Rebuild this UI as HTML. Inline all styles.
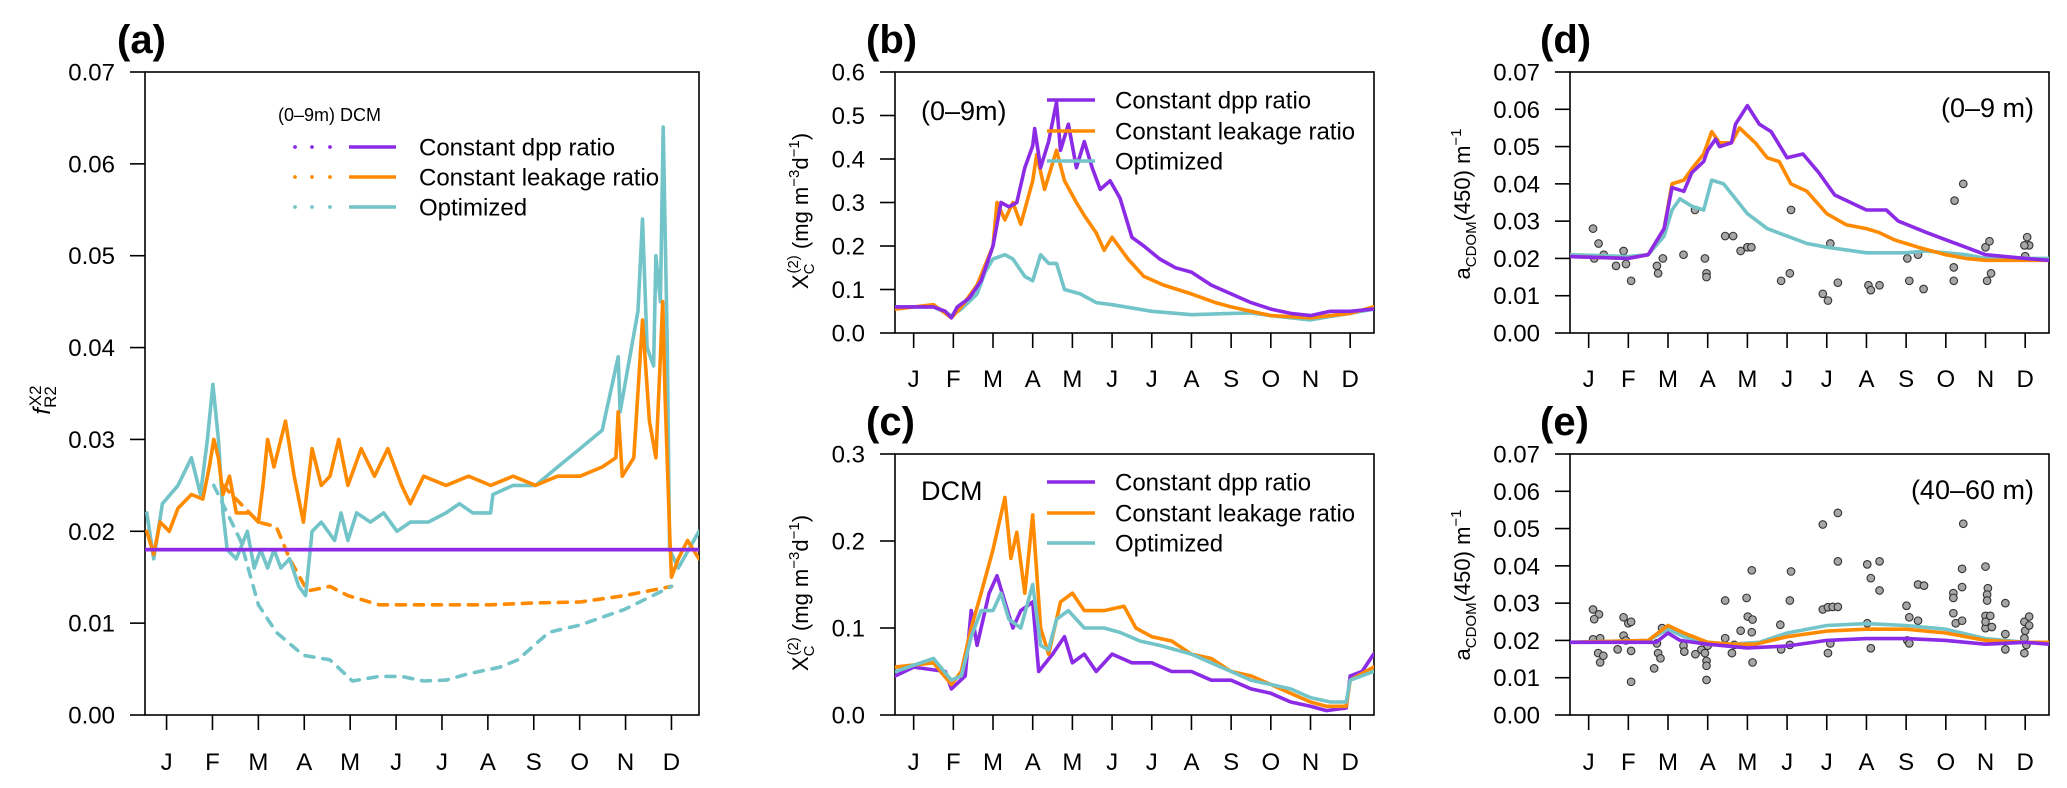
<!DOCTYPE html>
<html><head><meta charset="utf-8"><style>
html,body{margin:0;padding:0;background:#fff}
svg{display:block;font-family:"Liberation Sans",Arial,sans-serif}
</style></head><body>
<svg id="fig" width="2067" height="788" viewBox="0 0 2067 788" xmlns="http://www.w3.org/2000/svg"></svg>
<script>
// ---------- data (x in months, 0 = Jan tick) ----------
const months=["J","F","M","A","M","J","J","A","S","O","N","D"];
const aTicks=[0,0.01,0.02,0.03,0.04,0.05,0.06,0.07];
const bTicks=[0,0.1,0.2,0.3,0.4,0.5,0.6];
const cTicks=[0,0.1,0.2,0.3];
const dTicks=[0,0.01,0.02,0.03,0.04,0.05,0.06,0.07];

const aOrangeX=[-0.43,-0.28,-0.14,0.06,0.25,0.54,0.79,0.93,1.03,1.13,1.23,1.37,1.52,1.81,2.0,2.10,2.20,2.34,2.59,2.78,2.98,3.17,3.37,3.56,3.75,3.95,4.24,4.53,4.82,5.12,5.31,5.60,6.09,6.58,7.06,7.55,8.04,8.52,9.01,9.49,9.79,9.84,9.93,10.18,10.37,10.52,10.66,10.76,10.81,10.86,10.96,11.0,11.15,11.35,11.6];
const aOrangeY=[0.020,0.0175,0.021,0.020,0.0225,0.024,0.0235,0.027,0.030,0.028,0.024,0.026,0.022,0.022,0.021,0.025,0.030,0.027,0.032,0.026,0.021,0.029,0.025,0.026,0.030,0.025,0.029,0.026,0.029,0.025,0.023,0.026,0.025,0.026,0.025,0.026,0.025,0.026,0.026,0.027,0.028,0.033,0.026,0.028,0.043,0.032,0.028,0.039,0.045,0.035,0.020,0.015,0.017,0.019,0.017];
const aTealX=[-0.43,-0.28,-0.09,0.25,0.54,0.74,0.89,1.01,1.13,1.23,1.32,1.52,1.76,1.91,2.05,2.20,2.34,2.49,2.68,2.88,3.03,3.17,3.37,3.66,3.80,3.95,4.14,4.44,4.73,5.02,5.31,5.70,6.09,6.38,6.67,7.06,7.11,7.55,8.04,8.52,9.01,9.49,9.84,9.88,10.27,10.37,10.47,10.61,10.66,10.76,10.82,10.91,10.96,11.15,11.6];
const aTealY=[0.022,0.017,0.023,0.025,0.028,0.024,0.030,0.036,0.030,0.022,0.018,0.017,0.020,0.016,0.018,0.016,0.018,0.016,0.017,0.014,0.013,0.020,0.021,0.019,0.022,0.019,0.022,0.021,0.022,0.020,0.021,0.021,0.022,0.023,0.022,0.022,0.024,0.025,0.025,0.027,0.029,0.031,0.039,0.033,0.044,0.054,0.040,0.038,0.050,0.045,0.064,0.040,0.018,0.016,0.020];
const aPurpleX=[-0.47,11.6];
const aPurpleY=[0.018,0.018];
const aOrangeDashX=[1.23,2.0,2.39,2.68,3.07,3.56,3.95,4.63,5.60,7.06,8.04,9.01,9.98,11.0];
const aOrangeDashY=[0.025,0.021,0.0205,0.017,0.0135,0.014,0.013,0.012,0.012,0.012,0.0122,0.0123,0.013,0.014];
const aTealDashX=[1.03,1.61,2.0,2.39,2.98,3.56,4.05,4.63,5.12,5.60,6.09,6.58,7.26,7.65,8.33,9.01,9.98,11.0];
const aTealDashY=[0.025,0.019,0.012,0.009,0.0065,0.006,0.0037,0.0042,0.0042,0.0037,0.0038,0.0045,0.0052,0.006,0.009,0.0098,0.0115,0.014];

const bPurpleX=[-0.46,0,0.5,0.8,0.95,1.1,1.4,1.7,2.0,2.2,2.4,2.6,2.8,3.0,3.05,3.2,3.4,3.6,3.7,3.9,4.1,4.3,4.5,4.7,4.95,5.2,5.5,5.8,6.2,6.6,7.0,7.5,8.0,8.5,9.0,9.5,10.0,10.5,11.0,11.59];
const bPurpleY=[0.06,0.06,0.06,0.05,0.035,0.06,0.08,0.12,0.2,0.3,0.29,0.3,0.38,0.43,0.47,0.38,0.44,0.53,0.42,0.48,0.38,0.44,0.38,0.33,0.35,0.31,0.22,0.2,0.17,0.15,0.14,0.11,0.09,0.07,0.055,0.045,0.04,0.05,0.05,0.055];
const bOrangeX=[-0.46,0.5,0.95,1.2,1.6,2.0,2.1,2.3,2.5,2.7,3.0,3.1,3.3,3.6,3.8,4.1,4.3,4.6,4.8,5.0,5.4,5.8,6.3,7.0,7.6,8.0,8.5,9.0,10.0,10.5,11.0,11.59];
const bOrangeY=[0.055,0.065,0.035,0.06,0.11,0.2,0.3,0.26,0.3,0.25,0.35,0.41,0.33,0.42,0.35,0.3,0.27,0.23,0.19,0.22,0.17,0.13,0.11,0.09,0.07,0.06,0.05,0.04,0.035,0.04,0.045,0.06];
const bTealX=[-0.46,0.5,0.95,1.2,1.6,1.8,2.0,2.3,2.5,2.8,3.0,3.2,3.4,3.6,3.8,4.2,4.6,5.0,6.0,7.0,8.0,8.5,9.0,9.5,10.0,10.5,11.0,11.59];
const bTealY=[0.06,0.06,0.04,0.055,0.09,0.14,0.17,0.18,0.17,0.13,0.12,0.18,0.16,0.16,0.1,0.09,0.07,0.065,0.05,0.042,0.045,0.046,0.04,0.035,0.03,0.038,0.045,0.055];

const cPurpleX=[-0.46,0,0.8,0.95,1.3,1.45,1.6,1.9,2.1,2.3,2.5,2.7,3.0,3.15,3.5,3.8,4.0,4.3,4.6,5.0,5.5,6.0,6.5,7.0,7.5,8.0,8.5,9.0,9.5,10.0,10.4,10.9,11.0,11.3,11.59];
const cPurpleY=[0.045,0.055,0.05,0.03,0.045,0.12,0.08,0.14,0.16,0.13,0.1,0.12,0.13,0.05,0.07,0.09,0.06,0.07,0.05,0.07,0.06,0.06,0.05,0.05,0.04,0.04,0.03,0.025,0.015,0.01,0.005,0.008,0.045,0.05,0.07];
const cOrangeX=[-0.46,0.5,0.95,1.2,1.3,1.45,1.7,2.0,2.3,2.45,2.6,2.8,3.0,3.2,3.4,3.7,4.0,4.3,4.8,5.3,5.6,6.0,6.5,7.0,7.5,8.0,8.5,9.0,9.5,10.0,10.4,10.9,11.0,11.59];
const cOrangeY=[0.055,0.06,0.035,0.05,0.07,0.1,0.14,0.19,0.25,0.18,0.21,0.14,0.23,0.1,0.07,0.13,0.14,0.12,0.12,0.125,0.1,0.09,0.085,0.07,0.065,0.05,0.045,0.035,0.025,0.015,0.01,0.01,0.04,0.055];
const cTealX=[-0.46,0.5,0.95,1.2,1.45,1.7,2.0,2.2,2.4,2.7,3.0,3.2,3.4,3.6,3.9,4.3,4.8,5.2,5.7,6.2,7.0,7.5,8.0,8.5,9.0,9.5,10.0,10.5,10.9,11.0,11.59];
const cTealY=[0.05,0.065,0.04,0.045,0.09,0.12,0.12,0.14,0.11,0.1,0.15,0.08,0.075,0.11,0.12,0.1,0.1,0.095,0.085,0.08,0.07,0.06,0.05,0.04,0.035,0.03,0.02,0.015,0.015,0.04,0.05];

const dPurpleX=[-0.47,1.0,1.5,1.9,2.1,2.4,2.6,2.9,3.0,3.2,3.3,3.6,3.7,4.0,4.3,4.6,5.0,5.4,5.8,6.2,6.6,7.0,7.5,7.8,8.5,9.0,9.5,10.0,10.5,11.0,11.6];
const dPurpleY=[0.0205,0.020,0.021,0.028,0.039,0.038,0.043,0.046,0.049,0.052,0.050,0.051,0.056,0.061,0.056,0.054,0.047,0.048,0.043,0.037,0.035,0.033,0.033,0.030,0.027,0.025,0.023,0.021,0.0205,0.020,0.0195];
const dOrangeX=[-0.47,1.0,1.5,1.9,2.1,2.4,2.6,2.9,3.1,3.3,3.6,3.8,4.2,4.5,4.8,5.1,5.5,6.0,6.5,7.0,7.3,7.7,8.3,9.0,9.5,10.0,11.0,11.6];
const dOrangeY=[0.0205,0.020,0.021,0.028,0.040,0.041,0.044,0.048,0.054,0.051,0.051,0.055,0.051,0.047,0.046,0.040,0.038,0.032,0.029,0.028,0.027,0.025,0.023,0.021,0.020,0.0195,0.0195,0.0195];
const dTealX=[-0.47,1.0,1.5,1.9,2.1,2.3,2.6,2.9,3.1,3.4,3.7,4.0,4.5,5.0,5.5,6.0,7.0,8.0,8.5,9.0,9.5,10.0,11.0,11.6];
const dTealY=[0.021,0.0205,0.021,0.026,0.033,0.036,0.034,0.033,0.041,0.040,0.036,0.032,0.028,0.026,0.024,0.023,0.0215,0.0215,0.022,0.0215,0.021,0.020,0.020,0.020];
const dObsX=[0.11,0.25,0.14,0.38,0.69,0.88,0.94,1.07,1.72,1.75,1.87,2.39,2.68,2.93,2.97,2.97,3.44,3.64,3.83,4.0,4.1,4.85,5.07,5.1,5.9,6.03,6.09,6.28,7.05,7.11,7.33,8.03,8.08,8.3,8.44,9.2,9.2,9.22,9.44,10.0,10.1,10.04,10.14,11.0,11.05,11.1,10.98];
const dObsY=[0.028,0.024,0.020,0.021,0.018,0.022,0.0185,0.014,0.018,0.016,0.020,0.021,0.033,0.020,0.016,0.015,0.026,0.026,0.022,0.023,0.023,0.014,0.016,0.033,0.0105,0.0087,0.024,0.0135,0.0128,0.0115,0.0128,0.020,0.014,0.021,0.0118,0.0176,0.014,0.0355,0.040,0.023,0.0246,0.014,0.016,0.0206,0.0257,0.0235,0.0235];

const ePurpleX=[-0.47,1.7,2.0,2.3,3.0,4.0,5.0,6.0,7.0,8.0,9.0,10.0,11.0,11.6];
const ePurpleY=[0.0195,0.0195,0.022,0.020,0.019,0.018,0.0185,0.020,0.0205,0.0205,0.020,0.019,0.0195,0.019];
const eOrangeX=[-0.47,1.5,2.0,2.4,3.0,3.6,4.2,5.0,6.0,7.0,8.0,9.0,10.0,11.0,11.6];
const eOrangeY=[0.0195,0.020,0.024,0.022,0.0195,0.019,0.019,0.021,0.0225,0.023,0.023,0.022,0.020,0.0195,0.0195];
const eTealX=[-0.47,1.5,2.0,2.4,3.0,3.6,4.3,5.0,6.0,7.0,8.0,9.0,10.0,11.0,11.6];
const eTealY=[0.0195,0.020,0.023,0.021,0.0195,0.019,0.0195,0.022,0.024,0.0245,0.024,0.023,0.0205,0.0195,0.0195];
const eObsX=[0.11,0.26,0.14,0.11,0.29,0.24,0.29,0.37,0.88,1.0,1.07,0.88,0.94,0.73,1.07,1.07,1.65,1.72,1.75,1.81,1.85,2.39,2.41,2.69,2.84,2.93,2.97,2.97,2.97,3.0,3.44,3.44,3.61,3.67,3.83,3.98,4.01,4.11,4.13,4.11,4.13,4.83,4.85,5.07,5.1,5.07,5.9,6.28,6.28,5.9,6.03,6.15,6.28,6.09,6.03,7.02,7.33,7.11,7.33,7.02,7.11,8.01,8.08,8.3,8.03,8.08,8.3,8.45,9.19,9.19,9.19,9.25,9.41,9.41,9.41,9.44,10.0,10.06,10.04,10.04,10.0,10.12,10.0,10.16,10.0,10.5,10.5,10.5,10.98,11.1,11.0,10.98,11.03,10.98,11.1];
const eObsY=[0.0283,0.027,0.0257,0.0203,0.0206,0.0166,0.0141,0.0159,0.0262,0.0246,0.025,0.0213,0.020,0.0176,0.0172,0.0089,0.0125,0.0192,0.0166,0.0152,0.0233,0.0186,0.017,0.0163,0.0175,0.0166,0.0145,0.0132,0.0094,0.0186,0.0307,0.0206,0.0166,0.0188,0.0226,0.0314,0.0264,0.0388,0.0256,0.0222,0.0141,0.0242,0.0176,0.0307,0.0385,0.0188,0.0511,0.0542,0.0412,0.0283,0.0289,0.029,0.029,0.0192,0.0166,0.0404,0.0412,0.0367,0.0334,0.0246,0.0179,0.0293,0.0262,0.0253,0.020,0.0192,0.035,0.0347,0.0327,0.0314,0.0273,0.0246,0.0343,0.0392,0.0253,0.0513,0.0398,0.034,0.0323,0.0307,0.0266,0.0266,0.0233,0.0236,0.025,0.030,0.0217,0.0176,0.025,0.0264,0.0226,0.0206,0.0188,0.0166,0.024];

// ---------- drawing ----------
const NS="http://www.w3.org/2000/svg";
const svg=document.getElementById('fig');
const PUR="#8c2be6",ORA="#ff8a00",TEA="#72c4c9";
function mk(tag,attrs,parent){const e=document.createElementNS(NS,tag);for(const k in attrs)e.setAttribute(k,attrs[k]);(parent||svg).appendChild(e);return e;}
function txt(x,y,s,size,anchor,parent,weight){const t=mk('text',{x:x,y:y,'font-size':size,'text-anchor':anchor||'start','fill':'#000'},parent);if(weight)t.setAttribute('font-weight',weight);t.textContent=s;return t;}

function makePanel(id,L,R,T,B,ymax,ticks,tickFmt,labX,monY){
  const g=mk('g',{});
  
  
  const sx=m=>L+(m+0.47)/(11.6+0.47)*(R-L);
  const sy=v=>B-v/ymax*(B-T);
  const box=mk('rect',{x:L,y:T,width:R-L,height:B-T,fill:'none',stroke:'#000','stroke-width':1.6},g);
  
  
  ticks.forEach(v=>{
    const tk=mk('line',{x1:L-15,x2:L,y1:sy(v),y2:sy(v),stroke:'#000','stroke-width':1.6},g);
    
    
    const tl=txt(labX,sy(v)+8.5,tickFmt(v),24,'end',g);
    
    
  });
  months.forEach((m,i)=>{
    const tk=mk('line',{x1:sx(i),x2:sx(i),y1:B,y2:B+15,stroke:'#000','stroke-width':1.6},g);
    
    
    const tl=txt(sx(i),monY,m,24,'middle',g);
    
    
  });
  const clip=mk('clipPath',{id:'clip-'+id},g);
  mk('rect',{x:L,y:T,width:R-L,height:B-T},clip);
  const pg=mk('g',{'clip-path':'url(#clip-'+id+')'},g);
  return {g,pg,sx,sy};
}
function line(P,xs,ys,color,name,dash){
  const d=xs.map((x,i)=>(i?'L':'M')+P.sx(x).toFixed(1)+','+P.sy(ys[i]).toFixed(1)).join('');
  const p=mk('path',{d:d,fill:'none',stroke:color,'stroke-width':3.6,'stroke-linejoin':'round','stroke-linecap':'round'},P.pg);
  if(dash)p.setAttribute('stroke-dasharray',dash);
  
  
}
function obs(P,xs,ys,name){
  xs.forEach((x,i)=>{
    const c=mk('circle',{cx:P.sx(x),cy:P.sy(ys[i]),r:3.8,fill:'#a6a6a6',stroke:'#333','stroke-width':1.1},P.pg);
    
    
  });
}
function legend(x1,x2,tx,ys,parent){
  const cols=[PUR,ORA,TEA],labs=["Constant dpp ratio","Constant leakage ratio","Optimized"];
  ys.forEach((y,i)=>{
    const l=mk('line',{x1:x1,x2:x2,y1:y,y2:y,stroke:cols[i],'stroke-width':3.6},parent);
    
    
    const t=txt(tx,y+8.5,labs[i],24,'start',parent);
    
    
  });
}
const f2=v=>v.toFixed(2),f1=v=>v.toFixed(1);

// Panel a
const A=makePanel('panel-a',145,699,72,715,0.07,aTicks,f2,115,770);
line(A,aPurpleX,aPurpleY,PUR,'a-dpp-solid');
line(A,aOrangeDashX,aOrangeDashY,ORA,'a-leakage-dashed','9 9');
line(A,aTealDashX,aTealDashY,TEA,'a-optimized-dashed','9 9');
line(A,aTealX,aTealY,TEA,'a-optimized-solid');
line(A,aOrangeX,aOrangeY,ORA,'a-leakage-solid');
line(A,aPurpleX,aPurpleY,PUR,'a-dpp-solid-top');
let t=txt(117,53,'(a)',40,'start',A.g,'bold');


t=txt(278,121,'(0–9m) DCM',18,'start',A.g);


legend(349,396,419,[147,177,207],A.g);
[PUR,ORA,TEA].forEach((c,i)=>{[295,312,330].forEach(x=>{
  const d=mk('circle',{cx:x,cy:147+30*i,r:1.9,fill:c},A.g);
  
  
});});
t=mk('text',{transform:'translate(50,400) rotate(-90)','text-anchor':'middle','font-size':24},A.g);


t.innerHTML='<tspan font-style="italic">f</tspan><tspan font-size="17" dy="6">R2</tspan><tspan font-size="17" dx="-20" dy="-15">X2</tspan>';

// Panel b
const Bp=makePanel('panel-b',895,1374,72,333,0.6,bTicks,f1,865,387);
line(Bp,bTealX,bTealY,TEA,'b-optimized');
line(Bp,bOrangeX,bOrangeY,ORA,'b-leakage');
line(Bp,bPurpleX,bPurpleY,PUR,'b-dpp');
t=txt(866,53,'(b)',40,'start',Bp.g,'bold');


t=txt(921,120,'(0–9m)',27,'start',Bp.g);


legend(1047,1095,1115,[100,131,161],Bp.g);

// Panel c
const Cp=makePanel('panel-c',895,1374,454,715,0.3,cTicks,f1,865,770);
line(Cp,cPurpleX,cPurpleY,PUR,'c-dpp');
line(Cp,cOrangeX,cOrangeY,ORA,'c-leakage');
line(Cp,cTealX,cTealY,TEA,'c-optimized');
t=txt(866,435,'(c)',40,'start',Cp.g,'bold');


t=txt(921,500,'DCM',27,'start',Cp.g);


legend(1047,1095,1115,[482,513,543],Cp.g);

function xlabel(x,y,name){
  const tt=mk('text',{transform:'translate('+x+','+y+') rotate(-90)','text-anchor':'middle','font-size':22});
  
  
  tt.innerHTML='X<tspan font-size="15" dy="6">C</tspan><tspan font-size="15" dx="-10" dy="-16">(2)</tspan><tspan dy="10"> (mg m</tspan><tspan font-size="15" dy="-9">−3</tspan><tspan dy="9">d</tspan><tspan font-size="15" dy="-9">−1</tspan><tspan dy="9">)</tspan>';
}
xlabel(808,211,'y-axis-title-b');
xlabel(808,593,'y-axis-title-c');

// Panel d
const Dp=makePanel('panel-d',1570,2049,72,333,0.07,dTicks,f2,1540,387);
obs(Dp,dObsX,dObsY,'d-observation');
line(Dp,dTealX,dTealY,TEA,'d-optimized');
line(Dp,dOrangeX,dOrangeY,ORA,'d-leakage');
line(Dp,dPurpleX,dPurpleY,PUR,'d-dpp');
t=txt(1540,53,'(d)',40,'start',Dp.g,'bold');


t=txt(2034,117,'(0–9 m)',27,'end',Dp.g);



// Panel e
const Ep=makePanel('panel-e',1570,2049,454,715,0.07,dTicks,f2,1540,770);
obs(Ep,eObsX,eObsY,'e-observation');
line(Ep,eTealX,eTealY,TEA,'e-optimized');
line(Ep,eOrangeX,eOrangeY,ORA,'e-leakage');
line(Ep,ePurpleX,ePurpleY,PUR,'e-dpp');
t=txt(1540,435,'(e)',40,'start',Ep.g,'bold');


t=txt(2034,499,'(40–60 m)',27,'end',Ep.g);



function alabel(x,y,name){
  const tt=mk('text',{transform:'translate('+x+','+y+') rotate(-90)','text-anchor':'middle','font-size':22});
  
  
  tt.innerHTML='a<tspan font-size="15" dy="6">CDOM</tspan><tspan dy="-6">(450) m</tspan><tspan font-size="15" dy="-9">−1</tspan>';
}
alabel(1470,204,'y-axis-title-d');
alabel(1470,585,'y-axis-title-e');
</script>
</body></html>
